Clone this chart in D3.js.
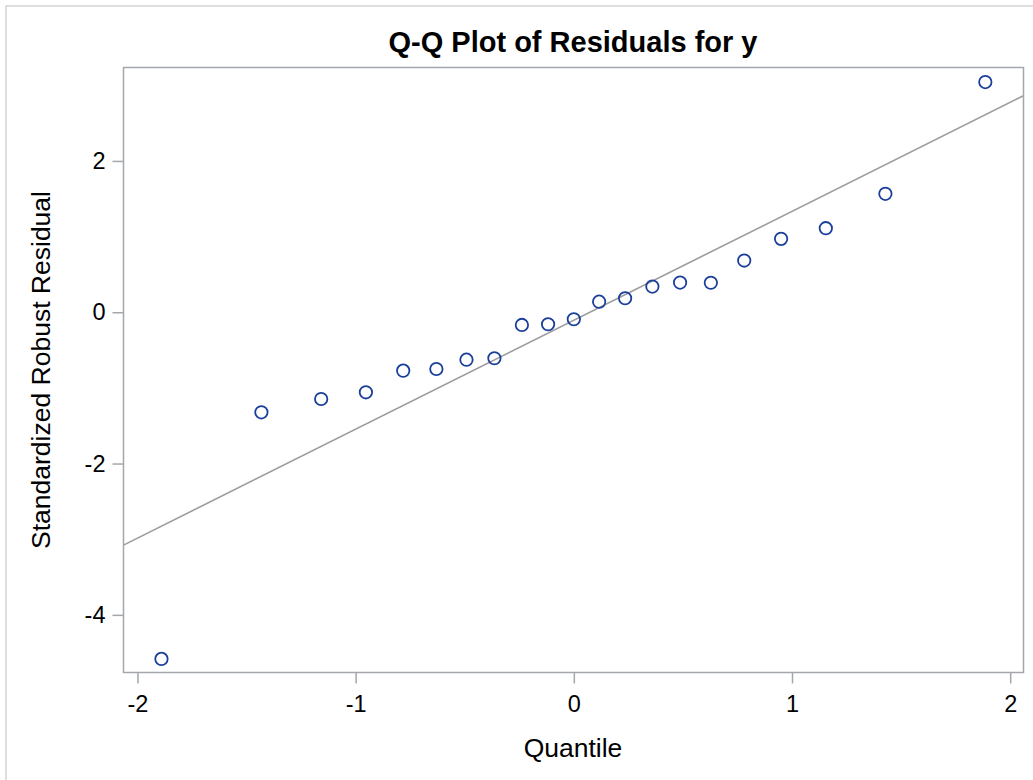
<!DOCTYPE html>
<html>
<head>
<meta charset="utf-8">
<script src="https://cdn.jsdelivr.net/npm/d3@7"></script>
<style>
  body { margin: 0; background: #fff; }
  svg { display: block; }
  text { font-family: "Liberation Sans", Arial, sans-serif; }
</style>
</head>
<body>
<svg id="chart" width="1033" height="780"></svg>
<script>
// ---- data ----
const quantiles = [-1.890, -1.432, -1.158, -0.953, -0.782, -0.630, -0.492, -0.364, -0.238, -0.118,
                   0.000, 0.116, 0.235, 0.360, 0.487, 0.628, 0.781, 0.950, 1.155, 1.428, 1.886];
const residuals = [-4.582, -1.323, -1.147, -1.058, -0.772, -0.750, -0.627, -0.608, -0.168, -0.159,
                   -0.093, 0.140, 0.185, 0.339, 0.392, 0.390, 0.683, 0.970, 1.111, 1.565, 3.042];
const refLine = { intercept: -0.106, slope: 1.440 };
const xTicks = [-2, -1, 0, 1, 2];
const yTicks = [-4, -2, 0, 2];
const xDomain = [-2.064, 2.061];
const yDomain = [-4.762, 3.235];
const titleText = "Q-Q Plot of Residuals for y";
const xLabel = "Quantile";
const yLabel = "Standardized Robust Residual";

// ---- layout ----
const svg = d3.select("#chart");
const W = 1033, H = 780;
const plot = { left: 123.5, top: 67.5, right: 1023.5, bottom: 672.5 };

// outer border
svg.append("rect")
  .attr("x", 6).attr("y", 6).attr("width", W + 20).attr("height", H + 20)
  .attr("fill", "none").attr("stroke", "#d4d4d4").attr("stroke-width", 1.5);

const x = d3.scaleLinear().domain(xDomain).range([plot.left, plot.right]);
const y = d3.scaleLinear().domain(yDomain).range([plot.bottom, plot.top]);

const data = quantiles.map((q, i) => ({ q, r: residuals[i] }));

// axes
const xAxis = d3.axisBottom(x).tickValues(xTicks).tickSize(11).tickPadding(12)
  .tickFormat(d3.format("d"));
const yAxis = d3.axisLeft(y).tickValues(yTicks).tickSize(11).tickPadding(7)
  .tickFormat(d3.format("d"));

const gx = svg.append("g").attr("transform", `translate(0,${plot.bottom})`).call(xAxis);
const gy = svg.append("g").attr("transform", `translate(${plot.left},0)`).call(yAxis);
[gx, gy].forEach(g => {
  g.select(".domain").remove();
  g.selectAll(".tick line").attr("stroke", "#a3a6aa").attr("stroke-width", 1.5);
  g.selectAll(".tick text").attr("fill", "#000").style("font-size", "23.5px")
    .style("font-family", '"Liberation Sans", Arial, sans-serif');
});
gy.selectAll(".tick text").text(d => d < 0 ? "-" + Math.abs(d) : d);
gx.selectAll(".tick text").text(d => d < 0 ? "-" + Math.abs(d) : d);

// clip for plot contents
svg.append("clipPath").attr("id", "clip").append("rect")
  .attr("x", plot.left).attr("y", plot.top)
  .attr("width", plot.right - plot.left).attr("height", plot.bottom - plot.top);

const content = svg.append("g").attr("clip-path", "url(#clip)");

// reference line
content.append("line")
  .attr("x1", x(xDomain[0])).attr("y1", y(refLine.intercept + refLine.slope * xDomain[0]))
  .attr("x2", x(xDomain[1])).attr("y2", y(refLine.intercept + refLine.slope * xDomain[1]))
  .attr("stroke", "#9c9c9c").attr("stroke-width", 1.6);

// markers
content.selectAll("circle.pt").data(data).join("circle")
  .attr("class", "pt")
  .attr("cx", d => x(d.q)).attr("cy", d => y(d.r))
  .attr("r", 6.2)
  .attr("fill", "none").attr("stroke", "#1a3f9b").attr("stroke-width", 1.8);

// plot frame
svg.append("rect")
  .attr("x", plot.left).attr("y", plot.top)
  .attr("width", plot.right - plot.left).attr("height", plot.bottom - plot.top)
  .attr("fill", "none").attr("stroke", "#a3a6aa").attr("stroke-width", 1.5);

// title
svg.append("text")
  .attr("x", 573).attr("y", 52)
  .attr("text-anchor", "middle")
  .style("font-size", "29px").style("font-weight", "bold")
  .text(titleText);

// axis labels
svg.append("text")
  .attr("x", 573).attr("y", 757)
  .attr("text-anchor", "middle")
  .style("font-size", "26.5px")
  .text(xLabel);

svg.append("text")
  .attr("transform", `translate(50,${(plot.top + plot.bottom) / 2}) rotate(-90)`)
  .attr("text-anchor", "middle")
  .style("font-size", "26.5px")
  .text(yLabel);
</script>
</body>
</html>
